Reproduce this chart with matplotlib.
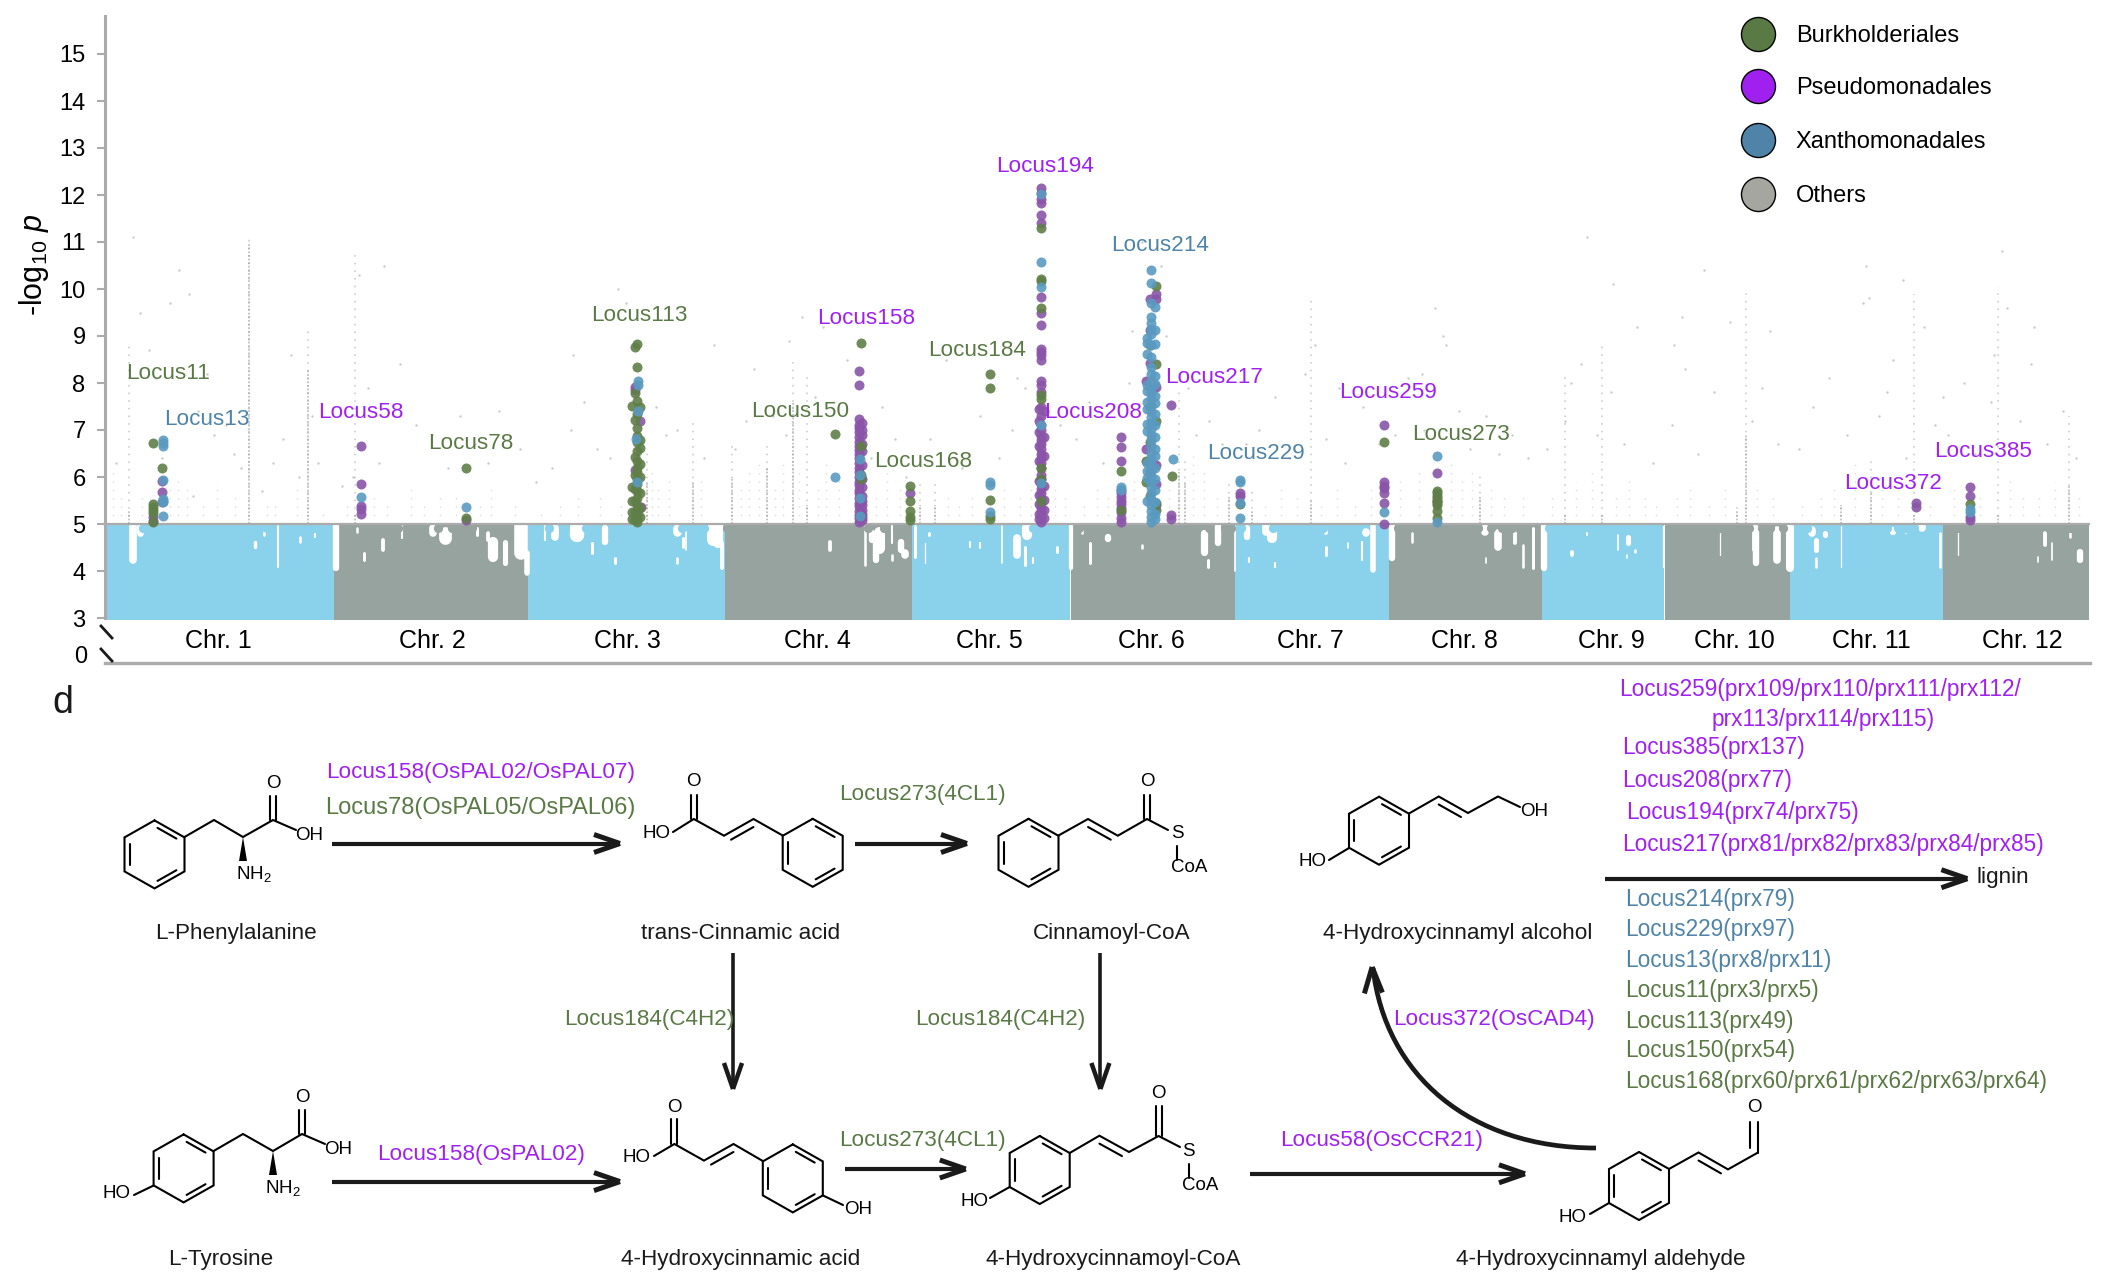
import matplotlib
matplotlib.use("Agg")
import matplotlib.pyplot as plt
from matplotlib.patches import PathPatch
from matplotlib.path import Path

plt.rcParams['font.family'] = ['Liberation Sans', 'DejaVu Sans']
plt.rcParams['mathtext.fontset'] = 'custom'
plt.rcParams['mathtext.rm'] = 'Liberation Sans'
plt.rcParams['mathtext.it'] = 'Liberation Sans:italic'

W, H = 2111, 1278
V = W / 1568  # label positions were read on the 1568 wide view

GREEN = '#5A7A45'
PURPLE = '#A020F0'
BLUE = '#4F84A8'
GREY = '#A5A6A0'
BAND_BLUE = '#8AD1EB'
BAND_GREY = '#97A39E'
DOT_GREEN = '#5F7F48'
DOT_PURPLE = '#8A55A8'
DOT_BLUE = '#5A9AC0'
AXIS = '#ABABAB'
INK = '#1A1A1A'

# chromosome lengths in Mb
chr_len = [43.0, 36.5, 37.0, 35.2, 29.8, 30.9, 28.9, 28.8, 23.0, 23.6, 28.8, 27.5]
chr_names = ['Chr. 1', 'Chr. 2', 'Chr. 3', 'Chr. 4', 'Chr. 5', 'Chr. 6',
             'Chr. 7', 'Chr. 8', 'Chr. 9', 'Chr. 10', 'Chr. 11', 'Chr. 12']
chr_label_x = [162, 321, 466, 607, 735, 855, 973, 1088, 1197, 1288, 1390, 1502]

# white holes in the dense cloud under the threshold: pos, top, bottom, width
band_gaps = [
    (5.3, 4.96, 4.23, 1.8), (6.6, 4.96, 4.80, 1.6), (28.2, 4.62, 4.52, 0.8), (29.8, 4.84, 4.77, 0.6),
    (32.6, 4.96, 4.09, 0.5), (36.7, 4.73, 4.62, 0.6), (39.5, 4.96, 4.73, 0.5), (43.4, 4.96, 4.06, 1.5),
    (47.3, 4.91, 4.84, 0.6), (48.6, 4.38, 4.23, 0.7), (52.3, 4.66, 4.45, 0.9), (55.8, 4.96, 4.70, 0.5),
    (61.7, 4.91, 4.80, 1.8), (63.9, 4.80, 4.70, 3.0), (69.9, 4.91, 4.77, 0.7), (73.0, 4.62, 4.30, 2.4),
    (72.0, 4.80, 4.66, 0.9), (75.2, 4.62, 4.16, 1.2), (78.2, 4.96, 4.38, 3.2), (79.3, 4.38, 3.95, 1.3),
    (82.8, 4.96, 4.66, 0.5), (84.6, 4.91, 4.73, 1.8), (88.7, 4.91, 4.77, 3.4), (91.5, 4.59, 4.38, 0.7),
    (94.0, 4.91, 4.62, 1.5), (95.9, 4.27, 4.16, 0.7), (107.5, 4.91, 4.84, 2.0), (108.7, 4.70, 4.52, 0.7),
    (109.3, 4.87, 4.45, 0.4), (107.5, 4.27, 4.16, 0.6), (114.3, 4.91, 4.66, 2.8), (115.3, 4.96, 4.59, 2.4),
    (115.9, 4.59, 4.06, 0.9), (136.3, 4.62, 4.45, 0.9), (142.9, 4.96, 4.13, 0.6), (144.1, 4.80, 4.66, 1.5),
    (145.4, 4.84, 4.48, 2.6), (144.9, 4.62, 4.23, 1.5), (147.9, 4.96, 4.59, 0.5), (149.7, 4.62, 4.45, 1.5),
    (147.9, 4.34, 4.23, 0.6), (150.4, 4.38, 4.34, 1.8), (152.3, 4.96, 4.30, 0.7), (154.1, 4.59, 4.16, 0.3),
    (154.8, 4.80, 4.77, 0.7), (162.5, 4.62, 4.52, 0.5), (164.5, 4.59, 4.48, 0.5), (168.6, 4.96, 4.16, 0.4),
    (171.4, 4.70, 4.34, 1.8), (172.9, 4.52, 4.13, 0.7), (174.5, 4.27, 4.16, 0.5), (173.3, 4.91, 4.77, 2.4),
    (178.9, 4.52, 4.41, 0.7), (181.6, 4.96, 4.06, 1.0), (183.6, 4.91, 4.80, 0.6), (185.2, 4.59, 4.16, 0.7),
    (188.6, 4.73, 4.68, 1.5), (194.9, 4.55, 4.48, 0.6), (206.5, 4.80, 4.41, 1.7), (207.4, 4.23, 4.09, 0.7),
    (209.3, 4.96, 4.59, 1.5), (212.4, 4.96, 3.99, 0.4), (214.6, 4.91, 4.73, 1.5), (219.3, 4.87, 4.70, 2.4),
    (218.3, 4.96, 4.84, 1.8), (215.0, 4.27, 4.20, 0.5), (220.0, 4.16, 4.09, 0.5), (229.6, 4.91, 4.80, 0.9),
    (229.6, 4.52, 4.34, 0.7), (233.7, 4.59, 4.48, 0.4), (238.4, 4.96, 4.02, 1.3), (236.2, 4.62, 4.23, 0.5),
    (237.0, 4.84, 4.80, 1.8), (241.9, 4.96, 4.27, 1.5), (245.6, 4.80, 4.62, 0.6), (259.4, 4.91, 4.84, 1.8),
    (261.9, 4.80, 4.52, 1.8), (259.6, 4.27, 4.16, 0.4), (265.0, 4.80, 4.59, 0.9), (266.6, 4.55, 4.09, 0.6),
    (268.5, 4.91, 4.06, 0.7), (270.4, 4.96, 4.06, 1.5), (278.5, 4.94, 4.77, 0.5), (275.7, 4.41, 4.34, 0.9),
    (286.3, 4.73, 4.59, 1.2), (284.4, 4.77, 4.45, 0.4), (287.6, 4.45, 4.41, 0.6), (286.0, 4.34, 4.27, 0.4),
    (292.9, 4.96, 4.09, 0.3), (303.6, 4.80, 4.34, 0.3), (310.4, 4.91, 4.16, 1.5), (309.9, 4.96, 4.45, 0.9),
    (314.2, 4.87, 4.23, 1.8), (316.7, 4.94, 4.06, 1.9), (320.8, 4.87, 4.80, 1.8), (321.7, 4.66, 4.45, 1.2),
    (321.7, 4.27, 4.09, 0.6), (323.3, 4.80, 4.77, 1.2), (326.4, 4.96, 4.09, 0.3), (336.1, 4.87, 4.84, 1.5),
    (338.6, 4.94, 4.80, 0.5), (341.5, 4.96, 4.91, 1.8), (344.9, 4.80, 4.09, 0.6), (348.4, 4.80, 4.34, 0.3),
    (364.6, 4.80, 4.55, 0.9), (365.9, 4.59, 4.23, 0.4), (369.3, 4.80, 4.73, 0.6), (371.2, 4.41, 4.23, 1.5),
    (363.4, 4.30, 4.20, 0.4),
]

# round dots that stick out along the top of the cloud
bump_x = [
    [0.6, 1.8, 3.0, 7.2, 9.0, 11.5, 13.0, 14.6, 16.2, 18.0, 20.0, 22.0, 23.5, 26.5, 28.5, 30.5, 34.0, 35.4, 37.5, 39.2, 41.0],
    [45.0, 46.2, 48.5, 50.0, 53.8, 55.0, 57.0, 59.5, 62.5, 65.3, 67.5, 68.9, 71.0, 74.5, 76.0],
    [80.5, 83.5, 86.5, 90.5, 92.0, 96.5, 98.5, 101.5, 103.0, 105.0, 108.5, 110.0, 112.5],
    [117.0, 119.0, 120.5, 122.5, 124.0, 126.5, 128.5, 130.5, 132.5, 134.0, 136.0, 138.5, 140.5, 143.5, 146.5, 148.8],
    [153.5, 155.5, 157.5, 159.5, 161.5, 163.5, 165.5, 169.5, 171.0, 174.5, 178.0, 179.6],
    [183.0, 185.5, 188.5, 191.0, 193.0, 195.0, 198.5, 200.5, 202.5, 204.5, 207.5, 210.5, 211.6],
    [213.5, 216.5, 219.5, 221.0, 223.5, 225.0, 227.5, 229.0, 231.0, 232.5, 234.5, 235.5],
    [243.0, 245.0, 247.0, 249.5, 251.5, 253.0, 255.0, 256.5, 258.0, 260.5, 262.5, 264.5, 266.0],
    [271.5, 273.5, 275.5, 277.0, 279.0, 280.5, 282.0, 284.5, 286.5, 289.0, 291.5],
    [294.0, 296.0, 298.0, 300.0, 301.5, 303.5, 305.5, 307.5, 309.0, 311.5, 313.0, 315.5],
    [320.0, 327.5, 329.0, 331.0, 333.0, 335.0, 337.0, 338.5, 340.0],
    [347.0, 349.0, 351.0, 353.5, 355.0, 357.0, 359.5, 361.0, 363.0, 365.5, 367.5, 369.5, 371.5],
]

# grey vertical runs of "Others" markers above the threshold
streak_x = [4.6, 27.0, 38.1, 47.0, 101.9, 110.5, 117.9, 124.5, 129.3, 132.0, 153.2, 156.0,
            201.9, 203.0, 211.2, 215.6, 226.6, 258.4, 274.4, 281.3, 306.8, 308.4, 326.3,
            332.0, 340.1, 355.8, 369.2]
streak_top = [8.85, 11.15, 9.10, 10.75, 6.60, 7.20, 6.70, 6.70, 8.55, 8.20, 5.85, 5.85,
              7.85, 6.40, 5.90, 5.70, 9.85, 6.08, 8.20, 8.87, 5.40, 10.02, 5.50,
              6.45, 9.90, 10.05, 7.30]
streak_dense = [5.3, 11.0, 8.3, 5.2, 5.9, 5.9, 6.0, 6.2, 7.6, 5.4, 5.4, 5.4,
                6.1, 5.9, 5.6, 5.3, 5.5, 5.6, 5.2, 5.2, 5.3, 6.9, 5.4,
                5.7, 5.2, 5.2, 5.8]

# short dotted runs
short_x = [1.5, 3.0, 7.0, 12.3, 13.7, 15.5, 18.4, 21.0, 24.5, 30.5, 32.0, 36.0, 41.0, 45.5, 50.5, 53.0,
           57.5, 60.0, 63.0, 66.0, 70.5, 72.5, 77.0, 82.0, 85.5, 89.0, 93.0, 97.0, 102.8, 104.0, 106.0,
           112.0, 119.5, 121.0, 123.0, 126.0, 127.5, 130.5, 134.0, 135.5, 138.0, 145.0, 147.0, 149.5,
           158.5, 160.5, 163.0, 169.0, 172.0, 174.0, 178.5, 180.5, 184.0, 186.5, 188.5, 193.5, 200.0,
           204.5, 206.5, 209.0, 213.0, 218.0, 221.0, 224.0, 228.5, 231.5, 235.0, 238.0, 243.5, 247.0,
           253.0, 255.0, 257.0, 260.5, 263.0, 266.5, 272.0, 276.5, 279.5, 284.0, 286.5, 289.5, 291.5,
           295.5, 298.0, 301.5, 304.5, 310.5, 313.5, 319.0, 322.5, 325.0, 329.0, 334.0, 337.0, 343.0,
           347.5, 352.5, 358.0, 360.5, 363.5, 366.5, 371.0]
short_top = [6.1, 5.7, 5.6, 5.9, 6.0, 5.8, 5.5, 5.9, 5.6, 5.4, 5.5, 5.9, 5.3, 5.4, 5.7, 5.5,
             5.9, 5.4, 5.7, 5.6, 5.5, 5.8, 5.4, 5.3, 5.4, 5.6, 5.7, 5.5, 6.1, 5.8, 6.0,
             6.0, 5.9, 6.2, 6.3, 5.8, 6.4, 6.1, 5.9, 6.4, 6.0, 5.7, 6.2, 5.9,
             5.6, 5.5, 5.7, 5.9, 5.6, 5.8, 5.9, 5.6, 5.5, 5.8, 5.7, 6.0, 5.8,
             6.5, 6.2, 5.7, 5.6, 5.5, 5.8, 5.6, 5.4, 5.8, 5.5, 5.9, 6.0, 6.2,
             6.3, 6.0, 6.1, 5.9, 5.7, 5.6, 5.6, 5.9, 6.1, 5.7, 6.0, 5.7, 5.5,
             5.6, 5.9, 5.5, 5.8, 5.9, 5.6, 5.5, 5.7, 5.9, 6.3, 6.0, 5.8, 5.4,
             5.8, 5.7, 6.0, 5.7, 5.6, 5.9, 5.7]

# scattered "Others" markers
other_x = [2.0, 5.3, 8.2, 14.0, 12.2, 15.8, 17.5, 19.2, 10.8, 20.5, 22.8, 16.5, 24.2, 6.5, 9.6, 25.5, 29.5, 31.5,
           33.5, 36.5, 40.0, 35.0, 38.9, 44.5, 46.6, 51.5, 47.8, 52.5, 55.5, 58.5, 49.5, 61.5, 64.5, 66.8, 69.5,
           72.0, 74.0, 78.0, 81.0, 84.0, 87.5, 90.0, 92.5, 95.0, 98.0, 103.5, 105.5, 107.5, 112.5, 114.5,
           96.5, 88.0, 118.5, 120.5, 122.0, 125.5, 128.0, 131.0, 133.5, 137.0, 139.5, 144.0, 146.0, 148.5, 150.5,
           128.5, 135.0, 155.0, 158.0, 161.0, 164.5, 168.0, 170.5, 173.0, 179.5, 171.5, 182.5, 185.0, 187.5,
           192.5, 198.5, 199.5, 203.5, 205.0, 207.5, 210.0, 195.0, 193.0, 214.5, 217.0, 220.0, 222.5, 225.5,
           229.5, 233.0, 236.5, 239.5, 227.5, 232.0, 242.5, 245.0, 248.0, 252.0, 254.5, 256.5, 259.5, 262.0,
           264.5, 267.5, 247.5, 251.5, 271.0, 274.5, 277.5, 280.5, 283.0, 285.5, 288.0, 291.0, 275.5, 278.5,
           294.5, 297.0, 299.5, 302.5, 305.5, 309.5, 311.5, 314.5, 300.5, 295.0, 318.5, 321.0, 324.0, 327.5,
           330.5, 333.5, 336.0, 338.5, 342.0, 344.0, 331.0, 335.0, 346.5, 349.5, 351.5, 354.5, 357.5, 360.0,
           362.0, 365.0, 368.0, 370.5, 356.5, 362.5, 355.0, 338.0, 313.0, 250.0, 283.5, 296.5, 331.5, 345.5]
other_y = [6.3, 11.1, 8.7, 10.4, 9.7, 9.9, 7.4, 8.2, 6.4, 6.9, 7.1, 5.6, 6.5, 9.5, 8.1, 6.2, 5.7, 6.3,
           6.8, 6.0, 6.3, 8.6, 7.3, 5.8, 6.0, 6.3, 10.3, 10.5, 8.4, 7.1, 7.9, 6.9, 6.2, 7.3, 6.7,
           6.3, 7.4, 6.6, 5.9, 6.2, 7.0, 7.6, 6.6, 6.4, 9.7, 7.5, 6.9, 7.0, 6.4, 8.8,
           10.0, 8.6, 6.6, 7.2, 8.3, 7.3, 6.9, 9.4, 7.7, 7.6, 8.5, 6.4, 7.5, 6.8, 6.0,
           8.9, 9.2, 6.8, 8.5, 6.2, 7.3, 6.4, 7.0, 7.9, 7.1, 8.1, 6.8, 7.6, 6.3,
           8.0, 10.5, 9.0, 7.9, 6.9, 7.2, 6.7, 11.0, 9.1, 6.7, 7.0, 7.7, 6.4, 8.2,
           6.8, 6.3, 7.5, 6.7, 8.8, 7.9, 6.9, 8.1, 7.0, 8.8, 7.4, 6.6, 7.3, 6.5,
           6.9, 6.4, 8.2, 9.0, 6.6, 7.2, 8.4, 6.9, 7.8, 6.7, 9.2, 6.3, 8.0, 11.1,
           7.1, 8.3, 6.5, 7.8, 9.3, 7.2, 7.9, 6.7, 10.4, 8.8, 6.6, 7.5, 8.1, 6.9,
           9.7, 7.3, 8.5, 6.4, 9.2, 7.1, 10.5, 7.8, 6.9, 8.0, 6.5, 7.6, 9.6, 7.2,
           8.4, 6.7, 7.4, 6.4, 10.8, 9.2, 8.6, 10.2, 9.1, 9.6, 10.1, 9.4, 9.8, 7.7]

# marker columns per order: position in Mb, then -log10 p values
pseudo_cols = [
    (9.0, [5.15, 5.07]), (10.7, [5.92, 5.68, 5.47]), (48.2, [6.67, 5.85, 5.38, 5.31, 5.22]),
    (67.9, [5.08]), (99.6, [7.92, 7.85, 6.15]), (100.6, [7.2]), (100.8, [5.36]),
    (141.8, [8.25, 7.96, 7.23, 7.10, 7.05, 6.95, 6.85, 6.75, 6.65, 6.58, 6.50, 6.40, 6.30, 6.20, 6.10,
             6.00, 5.90, 5.82, 5.72, 5.65, 5.55, 5.45, 5.38, 5.28, 5.20, 5.12, 5.05]),
    (142.3, [7.15, 7.00, 6.90, 6.70, 6.55, 6.25, 5.95, 5.78, 5.60, 5.50, 5.40, 5.30, 5.22, 5.15, 5.08]),
    (151.4, [5.67]),
    (176.0, [12.14, 12.05, 11.92, 11.83, 11.57, 11.41, 9.83, 9.50, 9.23, 8.72, 8.65, 8.60, 8.50, 8.05, 7.95, 7.81,
             7.50, 7.30, 7.10, 7.00, 6.88, 6.78, 6.70, 6.60, 6.50, 6.40, 6.30, 6.20, 6.05, 5.95, 5.85, 5.75,
             5.65, 5.55, 5.45, 5.35, 5.25, 5.15, 5.05]),
    (175.5, [7.45, 7.20, 6.95, 6.65, 6.35, 5.92, 5.62, 5.42, 5.22, 5.10]),
    (176.5, [7.40, 6.85, 6.45, 5.80, 5.52, 5.30, 5.12]),
    (190.9, [6.86, 6.64, 6.34, 5.72, 5.66, 5.58, 5.50, 5.42, 5.34, 5.25, 5.12, 5.04]),
    (196.5, [9.78, 9.12, 8.42]), (197.6, [9.90, 9.78, 7.92, 6.25, 5.85, 5.40]), (195.6, [8.05, 6.6]),
    (200.3, [7.54, 5.19, 5.10]),
    (213.3, [5.67, 5.60]), (240.4, [7.11, 5.90, 5.80, 5.76, 5.67, 5.45, 5.00]), (250.3, [6.09, 5.50]),
    (340.5, [5.45, 5.36]), (350.5, [5.79, 5.60, 5.15, 5.09]),
]
burk_cols = [
    (9.0, [6.73, 5.42, 5.36, 5.30, 5.24, 5.05]), (10.7, [6.19]), (67.9, [6.20, 5.13]),
    (100.0, [8.83, 8.33, 7.62, 7.35, 7.05, 6.88, 6.74, 6.55, 6.35, 6.20, 6.10, 5.95, 5.85, 5.70, 5.55, 5.40, 5.30,
             5.20, 5.12, 5.05]),
    (99.6, [8.76, 7.78, 7.22, 6.42, 6.05, 5.75, 5.48, 5.26, 5.08]),
    (100.5, [7.50, 6.78, 6.62, 6.28, 6.00, 5.65, 5.34, 5.15]),
    (99.0, [7.52, 5.78, 5.50, 5.25, 5.10]),
    (137.3, [6.91]), (142.1, [8.86, 6.65, 6.05, 5.95]), (151.4, [5.80, 5.48, 5.28, 5.15, 5.08]),
    (166.4, [8.20, 7.90, 5.52, 5.17, 5.10]),
    (176.0, [11.30, 10.22, 10.17, 9.60, 7.75, 7.65, 6.20, 5.95, 5.50]),
    (190.9, [6.13, 5.30]),
    (196.5, [8.80, 7.50, 6.75, 6.10, 5.60]), (197.5, [10.06, 8.40, 7.20, 5.45, 5.30]), (195.6, [6.35, 5.90]),
    (200.5, [6.02]), (213.3, [5.42]), (240.4, [6.74]),
    (250.3, [5.70, 5.65, 5.60, 5.55, 5.50, 5.45, 5.40, 5.28, 5.12]),
    (350.5, [5.42]),
]
xantho_cols = [
    (10.9, [6.78, 6.72, 6.67, 5.94, 5.54, 5.50, 5.47, 5.17]),
    (48.2, [5.57]), (67.9, [5.36]),
    (100.1, [8.05, 7.95, 7.40]), (99.8, [6.80]), (100.0, [5.90]),
    (137.2, [6.01]), (142.0, [6.38, 6.05, 5.55, 5.18]),
    (166.4, [5.90, 5.83, 5.26]),
    (176.0, [12.02, 10.57, 10.05, 7.10, 5.88]),
    (190.9, [5.78, 5.72]),
    (196.6, [10.40, 10.12, 9.70, 9.40, 9.28, 9.15, 9.05, 8.80, 8.55, 8.35, 8.20, 8.05, 7.90, 7.78, 7.65, 7.52, 7.40,
             7.28, 7.15, 7.02, 6.90, 6.78, 6.65, 6.52, 6.40, 6.28, 6.15, 6.02, 5.90, 5.78, 5.65, 5.52, 5.40,
             5.28, 5.15, 5.05]),
    (197.4, [9.62, 9.12, 8.82, 8.15, 7.98, 7.72, 7.58, 7.34, 7.10, 6.86, 6.60, 6.45, 6.20, 5.96, 5.72, 5.46, 5.22, 5.10]),
    (195.8, [8.95, 8.85, 8.62, 7.95, 7.82, 7.60, 7.45, 7.12, 6.98, 6.30, 6.12, 5.98, 5.50]),
    (200.8, [6.39]),
    (213.3, [5.94, 5.90, 5.45, 5.12]), (240.4, [5.26]), (250.3, [6.45, 5.05]), (350.5, [5.31, 5.25]),
]

legend_names = ['Burkholderiales', 'Pseudomonadales', 'Xanthomonadales', 'Others']
legend_colors = [GREEN, PURPLE, BLUE, GREY]
legend_y = [25, 64, 104, 144]

locus_labels = [
    ('Locus11', 125, 276, GREEN), ('Locus13', 154, 310, BLUE), ('Locus58', 268, 305, PURPLE),
    ('Locus78', 350, 328, GREEN), ('Locus113', 475, 233, GREEN), ('Locus150', 594, 304, GREEN),
    ('Locus158', 643, 235, PURPLE), ('Locus168', 686, 341, GREEN), ('Locus184', 726, 259, GREEN),
    ('Locus194', 776, 122, PURPLE), ('Locus208', 812, 305, PURPLE), ('Locus214', 862, 181, BLUE),
    ('Locus217', 902, 279, PURPLE), ('Locus229', 933, 335, BLUE), ('Locus259', 1031, 290, PURPLE),
    ('Locus273', 1085, 321, GREEN), ('Locus372', 1406, 358, PURPLE), ('Locus385', 1473, 334, PURPLE),
]

enzyme_labels = [
    ('Locus158(OsPAL02/OsPAL07)', 357, 572, PURPLE), ('Locus78(OsPAL05/OsPAL06)', 357, 599, GREEN),
    ('Locus273(4CL1)', 685, 589, GREEN), ('Locus184(C4H2)', 482, 756, GREEN),
    ('Locus184(C4H2)', 743, 756, GREEN), ('Locus158(OsPAL02)', 357, 856, PURPLE),
    ('Locus273(4CL1)', 685, 846, GREEN), ('Locus58(OsCCR21)', 1026, 846, PURPLE),
    ('Locus372(OsCAD4)', 1110, 756, PURPLE),
]

compound_names = [
    ('L-Phenylalanine', 175, 692), ('trans-Cinnamic acid', 550, 692), ('Cinnamoyl-CoA', 826, 692),
    ('4-Hydroxycinnamyl alcohol', 1083, 692), ('L-Tyrosine', 164, 934), ('4-Hydroxycinnamic acid', 550, 934),
    ('4-Hydroxycinnamoyl-CoA', 827, 934), ('4-Hydroxycinnamyl aldehyde', 1189, 934),
]

prx_labels = [
    ('Locus259(prx109/prx110/prx111/prx112/', 1203, 511, PURPLE), ('prx113/prx114/prx115)', 1271, 533, PURPLE),
    ('Locus385(prx137)', 1205, 554, PURPLE), ('Locus208(prx77)', 1205, 578, PURPLE),
    ('Locus194(prx74/prx75)', 1208, 602, PURPLE), ('Locus217(prx81/prx82/prx83/prx84/prx85)', 1205, 626, PURPLE),
    ('Locus214(prx79)', 1207, 667, BLUE), ('Locus229(prx97)', 1207, 689, BLUE),
    ('Locus13(prx8/prx11)', 1207, 712, BLUE), ('Locus11(prx3/prx5)', 1207, 734, GREEN),
    ('Locus113(prx49)', 1207, 757, GREEN), ('Locus150(prx54)', 1207, 779, GREEN),
    ('Locus168(prx60/prx61/prx62/prx63/prx64)', 1207, 802, GREEN),
]


def ring(ax, cx, cy):
    # pointy-top benzene ring with three inner double bonds
    hw, r = 30, 34
    pts = [(cx, cy - r), (cx + hw, cy - r / 2), (cx + hw, cy + r / 2),
           (cx, cy + r), (cx - hw, cy + r / 2), (cx - hw, cy - r / 2)]
    bond(ax, pts + [pts[0]])
    for i in (0, 2, 4):
        p, q = pts[i], pts[(i + 1) % 6]
        a = (p[0] + (cx - p[0]) * 0.17 + (q[0] - p[0]) * 0.1, p[1] + (cy - p[1]) * 0.17 + (q[1] - p[1]) * 0.1)
        b = (q[0] + (cx - q[0]) * 0.17 - (q[0] - p[0]) * 0.1, q[1] + (cy - q[1]) * 0.17 - (q[1] - p[1]) * 0.1)
        bond(ax, [a, b])
    return pts


def bond(ax, pts, lw=1.5):
    ax.plot([p[0] for p in pts], [p[1] for p in pts], color='black', lw=lw, solid_joinstyle='miter',
            solid_capstyle='round')


def double_side(ax, p, q, dx=3.5, dy=6):
    bond(ax, [(p[0] + (q[0] - p[0]) * 0.12 + dx, p[1] + (q[1] - p[1]) * 0.12 + dy),
              (q[0] - (q[0] - p[0]) * 0.12 + dx, q[1] - (q[1] - p[1]) * 0.12 + dy)])


def carbonyl(ax, x, y0, y1):
    bond(ax, [(x - 3, y0), (x - 3, y1)])
    bond(ax, [(x + 3, y0), (x + 3, y1)])


def atom(ax, x, y, s):
    ax.text(x, y, s, fontsize=13.5, ha='center', va='center', color='black')


def wedge(ax, x, y0, y1):
    ax.fill([x, x - 4, x + 4], [y0, y1, y1], color='black', lw=0)


def arrow(ax, x0, y0, x1, y1, lw=3.0):
    d = ((x1 - x0) ** 2 + (y1 - y0) ** 2) ** 0.5
    ux, uy = (x1 - x0) / d, (y1 - y0) / d
    ax.plot([x0, x1 - ux * 3], [y0, y1 - uy * 3], color=INK, lw=lw, solid_capstyle='butt')
    arrow_head(ax, x1, y1, ux, uy, lw)


def arrow_head(ax, x1, y1, ux, uy, lw=3.0):
    nx, ny = -uy, ux
    for s in (1, -1):
        ax.plot([x1 - ux * 2, x1 - ux * 28 + nx * 9 * s], [y1 - uy * 2, y1 - uy * 28 + ny * 9 * s],
                color=INK, lw=lw + 0.6, solid_capstyle='butt')


fig = plt.figure(figsize=(W / 100, H / 100), dpi=100, facecolor='white')

# Manhattan panel: x is the cumulative position in Mb
ax = fig.add_axes([105 / W, 1 - 663 / H, 1985 / W, (663 - 16) / H])
ax.set_xlim(0, 1985 / 5.32)
ax.set_ylim(3 - 45 / 47, 15 + 38 / 47)
ax.patch.set_alpha(0)

start = 0
for i, length in enumerate(chr_len):
    col = BAND_BLUE if i % 2 == 0 else BAND_GREY
    ax.bar(start + length / 2, 5 - 2.96, width=length - 0.08, bottom=2.96, color=col, lw=0, zorder=1)
    start += length

for pos, top, bottom, width in band_gaps:
    ax.plot([pos, pos], [top, bottom], color='white', lw=width * 5.32 * 0.72 * 0.8, solid_capstyle='round', zorder=2)

for i, length in enumerate(chr_len):
    col = BAND_BLUE if i % 2 == 0 else BAND_GREY
    ax.scatter(bump_x[i], [4.92] * len(bump_x[i]), s=44, color=col, lw=0, zorder=2.5)

ax.vlines(short_x, 5.0, short_top, color='#9A9A9A', lw=1.0, linestyles=(0, (1, 5)), alpha=0.35, zorder=3)
ax.vlines(streak_x, 5.0, streak_top, color='#8F8F8F', lw=1.1, linestyles=(0, (1, 4)), alpha=0.5, zorder=3)
ax.vlines(streak_x, 5.0, streak_dense, color='#8F8F8F', lw=1.3, linestyles=(0, (1, 1)), alpha=0.55, zorder=3)
ax.scatter(other_x, other_y, s=3, color='#9A9A9A', alpha=0.5, lw=0, zorder=3)

ax.axhline(5, color=AXIS, lw=1.6, zorder=4)

for cols, colour in [(pseudo_cols, DOT_PURPLE), (burk_cols, DOT_GREEN), (xantho_cols, DOT_BLUE)]:
    for pos, vals in cols:
        ax.scatter([pos] * len(vals), vals, s=52, color=colour, alpha=0.9, lw=0, zorder=5)

for side in ('top', 'right', 'left', 'bottom'):
    ax.spines[side].set_visible(False)
ax.set_xticks([])
ax.set_yticks(list(range(3, 16)))
ax.tick_params(axis='y', length=6, width=1.5, color=AXIS, pad=8, labelsize=17)
ax.plot([0, 0], [3.0, ax.get_ylim()[1]], color=AXIS, lw=2.2, clip_on=False, zorder=6)
ax.plot([0, ax.get_xlim()[1]], [ax.get_ylim()[0]] * 2, color=AXIS, lw=2.4, clip_on=False, zorder=6)

# overlay in pixel coordinates for labels and the pathway
ov = fig.add_axes([0, 0, 1, 1])
ov.set_xlim(0, W)
ov.set_ylim(H, 0)
ov.axis('off')
ov.patch.set_alpha(0)

ov.text(65 * V, 487 * V + 1, '0', fontsize=17, ha='right', va='center', color='black')
ov.plot([101, 112], [626, 638], color=INK, lw=2)
ov.plot([101, 112], [649, 661], color=INK, lw=2)

ov.text(25 * V, 197 * V, r'-log$_{10}$ $\mathit{p}$', fontsize=22, rotation=90, ha='center', va='center')

for name, x in zip(chr_names, chr_label_x):
    ov.text(x * V, 475 * V + 2, name, fontsize=18, ha='center', va='center', color='black')

for name, colour, y in zip(legend_names, legend_colors, legend_y):
    ov.scatter([1306 * V], [y * V], s=600, facecolor=colour, edgecolor='black', lw=1)
    ov.text(1334 * V, y * V + 2, name, fontsize=17, ha='left', va='center', color='black')

for s, x, y, colour in locus_labels + enzyme_labels:
    size = 17 if s.startswith('Locus78(') else 16.2
    ov.text(x * V, y * V + 2, s, fontsize=size, ha='center', va='center', color=colour, zorder=8)
for s, x, y in compound_names:
    ov.text(x * V, y * V + 2, s, fontsize=16.2, ha='center', va='center', color=INK)
for s, x, y, colour in prx_labels:
    ov.text(x * V, y * V + 2, s, fontsize=16.3, ha='left', va='center', color=colour)

ov.text(47 * V, 521 * V + 2, 'd', fontsize=27, ha='center', va='center', color=INK)
ov.text(1977, 878, 'lignin', fontsize=16.2, ha='left', va='center', color=INK)

# L-phenylalanine
ring(ov, 154.5, 854.4)
bond(ov, [(184.5, 837), (214, 820), (243, 837), (273, 820), (296, 830)])
carbonyl(ov, 273, 820, 796)
wedge(ov, 243, 837, 861)
atom(ov, 273, 783, 'O')
atom(ov, 309, 835, 'OH')
atom(ov, 254, 874, 'NH$_2$')

# L-tyrosine
ring(ov, 183.6, 1168.4)
bond(ov, [(213.6, 1151), (243, 1134), (273, 1151), (302, 1134), (325, 1144)])
bond(ov, [(153.6, 1185.5), (134, 1195)])
carbonyl(ov, 302, 1134, 1110)
wedge(ov, 273, 1151, 1175)
atom(ov, 302, 1097, 'O')
atom(ov, 338, 1149, 'OH')
atom(ov, 283, 1188, 'NH$_2$')
atom(ov, 117, 1193, 'HO')

# trans-cinnamic acid
ring(ov, 812.7, 852.8)
bond(ov, [(782.7, 835.5), (753.5, 819), (724, 835.7), (693.8, 819), (673, 832)])
double_side(ov, (753.5, 819), (724, 835.7))
carbonyl(ov, 693.8, 819, 795)
atom(ov, 693.8, 781, 'O')
atom(ov, 656.5, 833, 'HO')

# 4-hydroxycinnamic acid
ring(ov, 792.8, 1178.4)
bond(ov, [(762.8, 1161), (733.5, 1144), (704, 1160.6), (674.4, 1144), (654, 1156)])
double_side(ov, (733.5, 1144), (704, 1160.6))
bond(ov, [(822.8, 1195.4), (843, 1205)])
carbonyl(ov, 674.4, 1144, 1119)
atom(ov, 674.4, 1107, 'O')
atom(ov, 637, 1158, 'HO')
atom(ov, 858, 1209, 'OH')

# cinnamoyl-CoA
ring(ov, 1028.5, 852.8)
bond(ov, [(1058.5, 835.5), (1088, 819), (1117.8, 835.7), (1147, 819), (1168, 830)])
double_side(ov, (1088, 819), (1117.8, 835.7), dx=-3.5, dy=6)
carbonyl(ov, 1147, 819, 795)
bond(ov, [(1177, 846), (1177, 860)])
atom(ov, 1147, 781, 'O')
atom(ov, 1177, 833, 'S')
atom(ov, 1189, 868, 'CoA')

# 4-hydroxycinnamoyl-CoA
ring(ov, 1039.7, 1170)
bond(ov, [(1069.7, 1153), (1099.4, 1135.7), (1129, 1152), (1158.6, 1136), (1180, 1147)])
double_side(ov, (1099.4, 1135.7), (1129, 1152), dx=-3.5, dy=6)
bond(ov, [(1009.7, 1187), (990, 1198)])
carbonyl(ov, 1158.6, 1136, 1106)
bond(ov, [(1188.6, 1164), (1188.6, 1178)])
atom(ov, 1158.6, 1093, 'O')
atom(ov, 1188, 1151, 'S')
atom(ov, 1200, 1185, 'CoA')
atom(ov, 974.4, 1201.5, 'HO')

# 4-hydroxycinnamyl alcohol
ring(ov, 1379, 830.7)
bond(ov, [(1409, 813.5), (1438.7, 796.5), (1468, 813), (1498, 796.5), (1520, 807)])
double_side(ov, (1438.7, 796.5), (1468, 813), dx=-3.5, dy=6)
bond(ov, [(1349, 848), (1329, 860)])
atom(ov, 1534.6, 811, 'OH')
atom(ov, 1312.6, 862, 'HO')

# 4-hydroxycinnamyl aldehyde
ring(ov, 1639, 1186)
bond(ov, [(1669, 1169), (1698.5, 1152.5), (1728, 1169.4), (1758, 1152.5)])
double_side(ov, (1698.5, 1152.5), (1728, 1169.4), dx=-3.5, dy=6)
bond(ov, [(1758, 1152.5), (1758, 1122)])
bond(ov, [(1750, 1148), (1750, 1122)])
bond(ov, [(1609, 1203), (1590, 1214)])
atom(ov, 1754, 1108, 'O')
atom(ov, 1573, 1218, 'HO')

# reaction arrows
arrow(ov, 332, 843.5, 622, 843.5)
arrow(ov, 855, 843.5, 969, 843.5)
arrow(ov, 733, 953, 733, 1091, lw=2.6)
arrow(ov, 1100.4, 953, 1100.4, 1091, lw=2.6)
arrow(ov, 332, 1181.6, 622, 1181.6)
arrow(ov, 845, 1169, 967.8, 1169)
arrow(ov, 1250, 1173.8, 1527, 1173.8)
arrow(ov, 1605.4, 878.7, 1969.4, 878.7)

curve = Path([(1596, 1148), (1470, 1148), (1385, 1075), (1373, 968)],
             [Path.MOVETO, Path.CURVE4, Path.CURVE4, Path.CURVE4])
ov.add_patch(PathPatch(curve, facecolor='none', edgecolor=INK, lw=3.4, capstyle='butt'))
arrow_head(ov, 1372, 965, -0.05, -1.0, lw=3.0)

fig.savefig('out.png', dpi=100, facecolor='white')
